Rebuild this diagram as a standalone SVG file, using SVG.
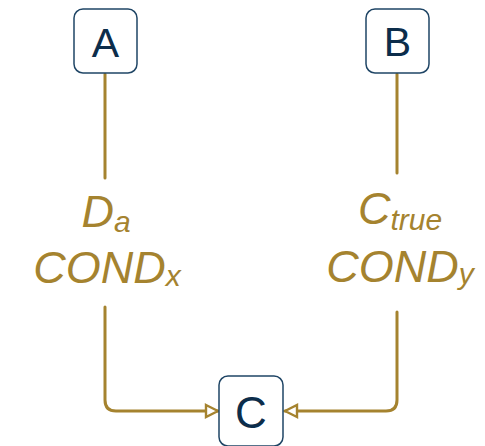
<svg xmlns="http://www.w3.org/2000/svg" width="485" height="446" viewBox="0 0 485 446">
  <defs>
    <style>
      .box { fill: #ffffff; stroke: #1f4565; stroke-width: 1.5; }
      .name { font-family: "Liberation Sans", Arial, sans-serif; fill: #0c2d4b; text-anchor: middle; }
      .edge { fill: none; stroke: #a5832f; stroke-width: 3; stroke-linecap: round; stroke-linejoin: round; }
      .lbl { font-family: "Liberation Sans", Arial, sans-serif; font-style: italic; fill: #a5832f; font-size: 45px; text-anchor: middle; }
      .sub { font-size: 30px; }
    </style>
    <marker id="head" viewBox="0 0 16 16" refX="14" refY="8" markerWidth="16" markerHeight="16" markerUnits="userSpaceOnUse" orient="auto">
      <path d="M2,2 L14,8 L2,14 Z" fill="#ffffff" stroke="#a5832f" stroke-width="2.4" stroke-linejoin="miter"/>
    </marker>
  </defs>

  <rect width="485" height="446" fill="#ffffff"/>

  <g id="connectors">
    <!-- A to C -->
    <path class="edge" d="M105,74 L105,178"/>
    <path class="edge" d="M105,307 L105,400 Q105,411 116,411 L218,411" marker-end="url(#head)"/>
    <!-- B to C -->
    <path class="edge" d="M397,74 L397,173"/>
    <path class="edge" d="M397,312 L397,400 Q397,411 386,411 L285,411" marker-end="url(#head)"/>
  </g>

  <g id="label-a">
    <text class="lbl" x="106" y="227">D<tspan class="sub" dy="5">a</tspan></text>
    <text class="lbl" x="107" y="283">COND<tspan class="sub" dy="3">x</tspan></text>
  </g>

  <g id="label-b">
    <text class="lbl" x="400" y="224">C<tspan class="sub" dy="6">true</tspan></text>
    <text class="lbl" x="400" y="282">COND<tspan class="sub" dy="2">y</tspan></text>
  </g>

  <g id="node-a">
    <rect class="box" x="74" y="9" width="63" height="64" rx="9"/>
    <text class="name" x="105.5" y="57" font-size="41">A</text>
  </g>

  <g id="node-b">
    <rect class="box" x="366" y="9" width="63" height="64" rx="9"/>
    <text class="name" x="397.5" y="56" font-size="41">B</text>
  </g>

  <g id="node-c">
    <rect class="box" x="219" y="376" width="64" height="70" rx="9"/>
    <text class="name" x="251" y="428" font-size="44">C</text>
  </g>
</svg>
